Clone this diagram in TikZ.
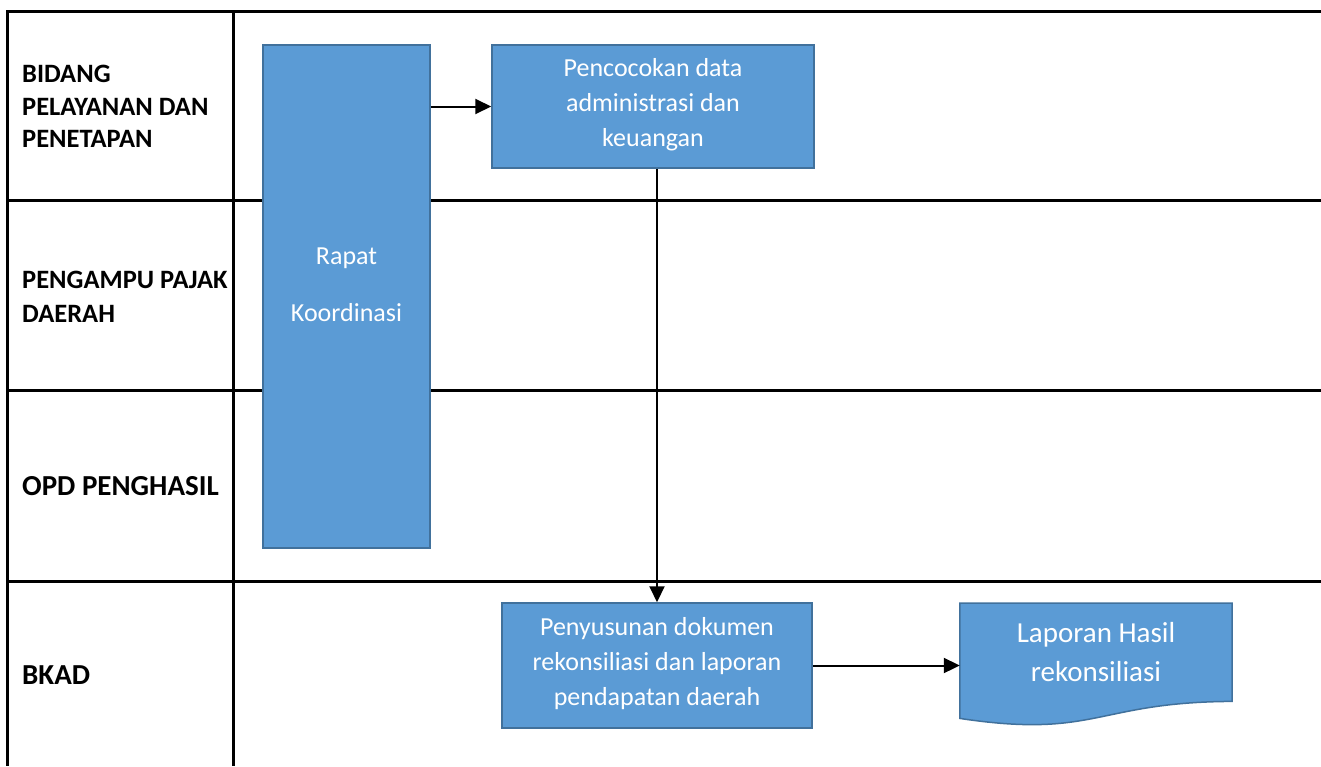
\documentclass[tikz,border=0pt]{standalone}
\usepackage{fontspec}
\setmainfont{Carlito}
\usetikzlibrary{arrows.meta}

\definecolor{boxfill}{HTML}{5B9BD5}
\definecolor{boxline}{HTML}{41719C}

\tikzset{
  grid/.style={line width=3pt, black},
  lanelabel/.style={anchor=west, inner sep=0pt, align=left, font=\bfseries},
  process/.style={draw=boxline, fill=boxfill, line width=1.5pt, inner sep=0pt},
  boxtext/.style={text=white, align=center, inner sep=0pt,
    font=\fontsize{26}{35}\selectfont},
  flow/.style={line width=2pt, -{Triangle[length=16pt,width=15pt]}}
}

\begin{document}
\begin{tikzpicture}[x=1pt,y=-1pt]
\useasboundingbox (0,0) rectangle (1321,766);

% swimlane grid
\draw[grid] (1321,11) -- (7,11) -- (7,766);
\draw[grid] (233,11) -- (233,766);
\draw[grid] (7,200) -- (1321,200);
\draw[grid] (7,390) -- (1321,390);
\draw[grid] (7,581) -- (1321,581);

% lane titles
\node[lanelabel, font=\bfseries\fontsize{26.5}{32.5}\selectfont] (lane1) at (22,106.5)
  {BIDANG\\PELAYANAN DAN\\PENETAPAN};
\node[lanelabel, font=\bfseries\fontsize{26.5}{34}\selectfont] (lane2) at (22,296.5)
  {PENGAMPU PAJAK\\DAERAH};
\node[lanelabel, font=\bfseries\fontsize{29}{35}\selectfont] (lane3) at (22,486)
  {OPD PENGHASIL};
\node[lanelabel, font=\bfseries\fontsize{29}{35}\selectfont] (lane4) at (22,675)
  {BKAD};

% process boxes
\node[process, minimum width=167pt, minimum height=503pt] (rapat) at (346.5,296.5) {};
\node[boxtext, font=\fontsize{26}{57}\selectfont] (rapattext) at (346.5,285)
  {Rapat\\Koordinasi};

\node[process, minimum width=322pt, minimum height=123pt] (cocok) at (653,106.5) {};
\node[boxtext] (cocoktext) at (653,105) {Pencocokan data\\administrasi dan\\keuangan};

\node[process, minimum width=310pt, minimum height=125pt] (susun) at (657,665.5) {};
\node[boxtext] (susuntext) at (657,664) {Penyusunan dokumen\\rekonsiliasi dan laporan\\pendapatan daerah};

% document shape for the report
\node[minimum width=272pt, minimum height=115pt, inner sep=0pt, anchor=north] (lapor) at (1096,603) {};
\draw[process] (lapor.north west) -- (lapor.north east) -- ([yshift=17pt]lapor.south east)
  .. controls (1096,702) and (1096,739) .. (lapor.south west) -- cycle;
\node[boxtext, font=\fontsize{29}{39}\selectfont] (laportext) at (1096,652.5)
  {Laporan Hasil\\rekonsiliasi};

% flow connectors
\draw[flow] (rapat.east |- cocok.west) -- (cocok.west);
\draw[flow] (cocok.south -| susun.north) -- (susun.north);
\draw[flow] (susun.east) -- (lapor.west |- susun.east);
\end{tikzpicture}
\end{document}
